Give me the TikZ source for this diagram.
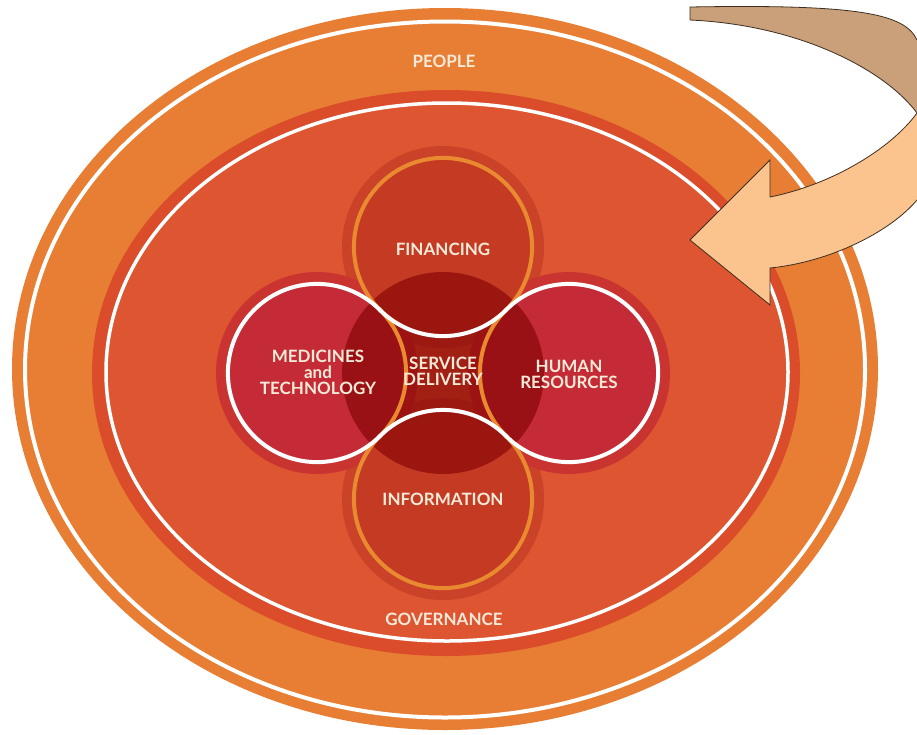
\documentclass[tikz,border=0pt]{standalone}
\usepackage{fontspec}
\newfontfamily\lblfont{Lato}
\definecolor{outerorange}{HTML}{E87E34}
\definecolor{innerband}{HTML}{DA4C2A}
\definecolor{innerfill}{HTML}{DE5531}
\definecolor{haloF}{HTML}{CA4228}
\definecolor{haloM}{HTML}{C93431}
\definecolor{fillF}{HTML}{C53A22}
\definecolor{fillM}{HTML}{C42B36}
\definecolor{darkcore}{HTML}{860606}
\definecolor{ringorange}{HTML}{EA8A30}
\definecolor{labeltext}{HTML}{F7EAD8}
\definecolor{arrowtan}{HTML}{C9A07A}
\definecolor{arrowlight}{HTML}{FBC48E}
\definecolor{arrowedge}{HTML}{3E2E20}
\begin{document}
\begin{tikzpicture}[x=1pt,y=-1pt,
  lbl/.style={text=labeltext, font=\lblfont\bfseries\fontsize{17}{16}\selectfont, align=center, inner sep=0pt},
  edge/.style={draw=arrowedge, line width=0.8pt, line join=miter}]
\useasboundingbox (0,0) rectangle (917,734);
\clip (0,0) rectangle (917,734);
\fill[white] (0,0) rectangle (917,734);
% outer ring (people)
\fill[outerorange] (445,369) ellipse [x radius=433, y radius=361];
\draw[white, line width=4pt] (445,369.5) ellipse [x radius=420, y radius=348];
% inner area (governance)
\fill[innerband] (446,373) ellipse [x radius=354, y radius=283];
\fill[innerfill] (447,372) ellipse [x radius=341, y radius=269];
\draw[white, line width=3.5pt] (447,372) ellipse [x radius=341, y radius=269];
% circle centres
\coordinate (cF) at (443,247);
\coordinate (cI) at (443,499);
\coordinate (cM) at (317,373);
\coordinate (cH) at (569,373);
\coordinate (cS) at (443,373);
% halos
\fill[haloF] (cF) circle [radius=101];
\fill[haloF] (cI) circle [radius=101];
\fill[haloM] (cM) circle [radius=101];
\fill[haloM] (cH) circle [radius=101];
% fills
\fill[fillF] (cF) circle [radius=89.1];
\fill[fillF] (cI) circle [radius=89.1];
\fill[fillM] (cM) circle [radius=89.1];
\fill[fillM] (cH) circle [radius=89.1];
% service delivery core
\fill[darkcore, fill opacity=0.68] (cS) circle [radius=101];
% tangent points
\coordinate (tFM) at (380,310);
% orange ring path
\draw[ringorange, line width=4pt] (tFM)
  arc[start angle=135, end angle=405, radius=89.1]
  arc[start angle=225, end angle=135, radius=89.1]
  arc[start angle=-45, end angle=225, radius=89.1]
  arc[start angle=45, end angle=-45, radius=89.1] -- cycle;
% white ring path
\draw[white, line width=4pt] (tFM)
  arc[start angle=315, end angle=45, radius=89.1]
  arc[start angle=225, end angle=315, radius=89.1]
  arc[start angle=135, end angle=-135, radius=89.1]
  arc[start angle=45, end angle=135, radius=89.1] -- cycle;
% labels
\node[lbl] (people) at (444,61) {PEOPLE};
\node[lbl] (governance) at (444,619) {GOVERNANCE};
\node[lbl] (financing) at (443,249) {FINANCING};
\node[lbl] (information) at (443,499) {INFORMATION};
\node[lbl] (medicines) at (318,372) {MEDICINES\\and\\TECHNOLOGY};
\node[lbl] (service) at (443,371) {SERVICE\\DELIVERY};
\node[lbl] (human) at (569,374) {HUMAN\\RESOURCES};
% curved arrow
\fill[arrowtan] (690,7) .. controls (860,4) and (905,14) .. (917,40)
  -- (917,113) .. controls (885,70) and (800,25) .. (690,20) -- cycle;
\draw[edge] (690,20) -- (690,7) .. controls (860,4) and (905,14) .. (917,40);
\draw[edge] (917,113) .. controls (885,70) and (800,25) .. (690,20);
\fill[arrowlight] (917,113) .. controls (890,150) and (830,185) .. (770,197)
  -- (770,160) -- (690,240) -- (770,305) -- (770,268)
  .. controls (830,262) and (890,232) .. (917,200) -- cycle;
\draw[edge] (917,113) .. controls (890,150) and (830,185) .. (770,197)
  -- (770,160) -- (690,240) -- (770,305) -- (770,268)
  .. controls (830,262) and (890,232) .. (917,200);
\end{tikzpicture}
\end{document}
